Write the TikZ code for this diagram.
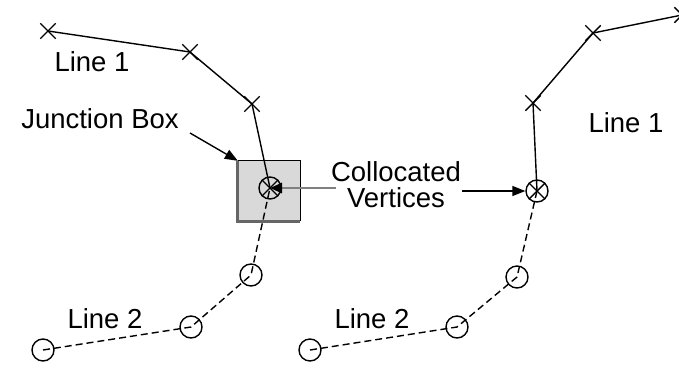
\documentclass[tikz,border=0pt]{standalone}
\usepackage{fontspec}
\setmainfont{Liberation Sans}
\usetikzlibrary{shapes.misc,arrows.meta}
\begin{document}
\begin{tikzpicture}[x=1pt,y=-1pt,
 xv/.style={cross out,draw,line width=1.4pt,minimum size=14pt,inner sep=0pt},
 ov/.style={circle,draw,line width=1.4pt,minimum size=22pt,inner sep=0pt},
 cv/.style={circle,draw,line width=1.4pt,minimum size=22pt,inner sep=0pt},
 cvx/.style={cross out,draw,line width=1.4pt,minimum size=15pt,inner sep=0pt},
 lone/.style={line width=1.4pt},
 ltwo/.style={line width=1.4pt,dash pattern=on 7pt off 4pt},
 lbl/.style={font=\fontsize{27.5}{26}\selectfont,inner sep=0pt,align=center},
 arr/.style={line width=1.4pt,-{Triangle[length=13pt,width=10pt]}}]
\useasboundingbox (0,0) rectangle (679,367);
% junction box
\node[fill=gray!30,minimum width=62pt,minimum height=60pt,inner sep=0pt] (jb) at (269,191) {};
\draw[gray!80!black,line width=3pt] (jb.north west) -- (jb.south west) -- (jb.south east);
\draw[line width=1.2pt] (jb.north west) -- (jb.north east) -- (jb.south east);
% left vertices
\coordinate (a1) at (48,31);
\coordinate (a2) at (190,52);
\coordinate (a3) at (252,104);
\coordinate (J) at (270,188);
\coordinate (b1) at (43,350);
\coordinate (b2) at (191,327);
\coordinate (b3) at (251,275);
% right vertices
\coordinate (c0) at (682,15);
\coordinate (c1) at (593,33);
\coordinate (c2) at (533,103);
\coordinate (K) at (537,191);
\coordinate (d1) at (310,350);
\coordinate (d2) at (457,327);
\coordinate (d3) at (517,277);
% lines
\draw[lone] (a1) -- (a2) -- (a3) -- (J);
\draw[ltwo] (b1) -- (b2) -- (b3) -- (J);
\draw[lone] (c0) -- (c1) -- (c2) -- (K);
\draw[ltwo] (d1) -- (d2) -- (d3) -- (K);
% vertex marks
\foreach \p in {a1,a2,a3,c0,c1,c2} \node[xv] at (\p) {};
\foreach \p in {b1,b2,b3,d1,d2,d3} \node[ov] at (\p) {};
\node[cv] (Jc) at (J) {};
\node[cvx] at (J) {};
\node[cv] (Kc) at (K) {};
\node[cvx] at (K) {};
% labels
\node[lbl] (l1a) at (92,62) {Line 1};
\node[lbl] (jbl) at (100,119) {Junction Box};
\node[lbl] (coll) at (396,185) {Collocated\\Vertices};
\node[lbl] (l1b) at (626,123) {Line 1};
\node[lbl] (l2a) at (105,319) {Line 2};
\node[lbl] (l2b) at (372,319) {Line 2};
% connectors
\coordinate (ja) at (190,133);
\draw[arr] (ja) -- (jb.north west);
\coordinate (cg) at (336,188);
\draw[gray,line width=2.5pt,-{Triangle[length=12pt,width=10pt,color=black]}] (cg) -- (J);
\coordinate (va) at (462,191);
\draw[arr] (va) -- (Kc.west);
\end{tikzpicture}
\end{document}
